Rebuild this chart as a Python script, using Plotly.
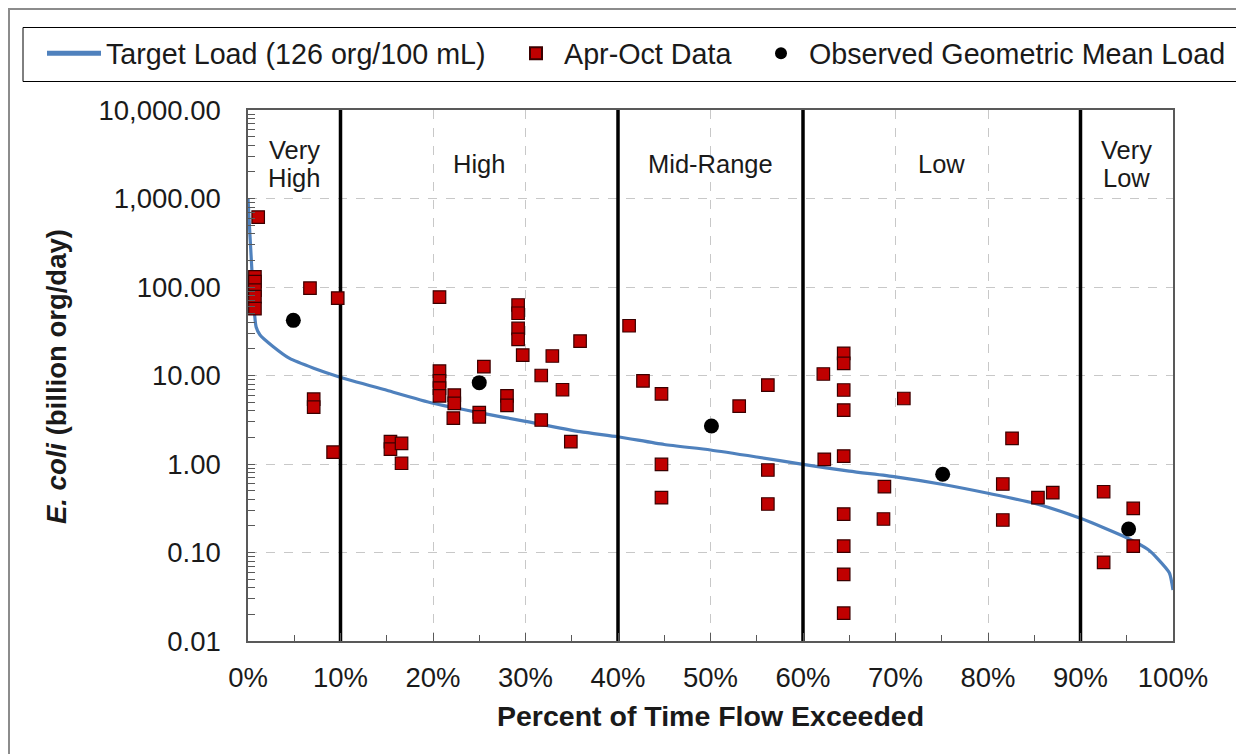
import plotly.graph_objects as go

# ---------------- data ----------------
# Target load duration curve (percent of time flow exceeded, billion org/day)
target_x = [0, 0.2, 0.4, 0.65, 0.87, 1.3, 2.7, 4.5, 7.1, 9.8, 15, 20, 25, 30, 35.9, 40, 45, 50, 55, 60,
            65, 70, 75, 80, 85, 90, 95.1, 97.3, 98.3, 99.6, 100]
target_y = [1000, 405, 170, 60, 35.6, 28.7, 21.3, 15.6, 12.1, 9.7, 6.8, 4.85, 3.8, 3.03, 2.32, 2.03, 1.66,
            1.44, 1.2, 0.99, 0.83, 0.715, 0.59, 0.467, 0.36, 0.243, 0.145, 0.108, 0.086, 0.059, 0.0377]

# Apr-Oct sample loads
data_x = [1.1, 0.75, 0.75, 0.75, 0.75, 0.75, 6.7, 9.7, 7.1, 7.1, 9.2,
          20.7, 20.7, 20.7, 20.7, 20.7, 25.5, 22.3, 22.3, 22.2, 25.0, 25.0, 28.0, 28.0,
          29.2, 29.2, 29.2, 29.2, 29.7, 32.9, 31.7, 31.7, 34.0, 35.9, 34.9, 15.4, 15.4, 16.6, 16.6,
          41.2, 42.7, 44.7, 44.7, 44.7, 53.1, 56.2, 56.2, 56.2,
          62.2, 62.3, 64.4, 64.4, 64.4, 64.4, 64.4, 64.4, 64.4, 64.4, 64.4,
          68.8, 68.7, 70.9, 81.6, 81.6, 82.6, 85.4, 87.0,
          92.5, 92.5, 95.7, 95.7]
data_y = [617, 130, 115, 92, 78, 57, 97, 75, 5.4, 4.4, 1.36,
          77, 11.2, 8.7, 7.2, 5.9, 12.6, 6.0, 4.85, 3.3, 3.8, 3.4, 5.9, 4.6,
          62.6, 50.5, 34, 25.6, 17, 16.6, 10.0, 3.14, 6.9, 24.5, 1.79, 1.79, 1.47, 1.71, 1.02,
          36.5, 8.7, 6.2, 0.99, 0.416, 4.5, 7.8, 0.855, 0.353,
          10.4, 1.13, 17.8, 13.7, 6.86, 4.07, 1.23, 0.272, 0.118, 0.0567, 0.0206,
          0.554, 0.239, 5.5, 0.594, 0.233, 1.95, 0.416, 0.474,
          0.486, 0.0775, 0.315, 0.118]

# Observed geometric mean load per flow zone
gm_x = [4.9, 25.0, 50.1, 75.1, 95.2]
gm_y = [42, 8.3, 2.69, 0.766, 0.184]

# Flow zones
zone_bounds = [0, 10, 40, 60, 90, 100]
zone_names = ["Very<br>High", "High", "Mid-Range", "Low", "Very<br>Low"]

y_tickvals = [0.01, 0.1, 1, 10, 100, 1000, 10000]
y_ticktext = ["0.01", "0.10", "1.00", "10.00", "100.00", "1,000.00", "10,000.00"]
x_tickvals = [0, 10, 20, 30, 40, 50, 60, 70, 80, 90, 100]
x_ticktext = ["0%", "10%", "20%", "30%", "40%", "50%", "60%", "70%", "80%", "90%", "100%"]

# ---------------- figure ----------------
FONT = "Liberation Sans, Arial, sans-serif"
TXT = "#1a1a1a"
W, H = 1244, 754
OFF = 8  # page body margin
ML, MR, MT, MB = 240, 79, 102, 121
PW, PH = W - ML - MR, H - MT - MB


def px_x(p):
    """screen x pixel -> paper x"""
    return (p - OFF - ML) / PW


def px_y(p):
    """screen y pixel -> paper y"""
    return (H - MB - (p - OFF)) / PH


# zone divider lines built from the zone boundaries (drawn as a trace, above the grid)
div_x, div_y = [], []
for b in zone_bounds[1:-1]:
    div_x += [b, b, None]
    div_y += [y_tickvals[0], y_tickvals[-1], None]

fig = go.Figure()
fig.add_trace(go.Scatter(x=target_x, y=target_y, mode="lines", name="Target Load (126 org/100 mL)",
                         legend="legend",
                         line=dict(color="#4F81BD", width=3.2, shape="spline", smoothing=0.6)))
fig.add_trace(go.Scatter(x=div_x, y=div_y, mode="lines", showlegend=False, hoverinfo="skip",
                         line=dict(color="#000000", width=3.5)))
fig.add_trace(go.Scatter(x=data_x, y=data_y, mode="markers", name="Apr-Oct Data", legend="legend2",
                         marker=dict(symbol="square", size=12.5, color="#C00000",
                                     line=dict(color="#3A0000", width=1.2))))
fig.add_trace(go.Scatter(x=gm_x, y=gm_y, mode="markers", name="Observed Geometric Mean Load",
                         legend="legend3",
                         marker=dict(symbol="circle", size=15, color="#000000")))

shapes = []
# outer chart border
shapes.append(dict(type="rect", xref="paper", yref="paper", x0=px_x(9), x1=px_x(1300),
                   y0=px_y(800), y1=px_y(9), line=dict(color="#8C8C8C", width=2)))
# legend frame
shapes.append(dict(type="rect", xref="paper", yref="paper", x0=px_x(23), x1=px_x(1241),
                   y0=px_y(81.5), y1=px_y(27.5), line=dict(color="#000000", width=1)))

annotations = []
for i, name in enumerate(zone_names):
    mid = (zone_bounds[i] + zone_bounds[i + 1]) / 2
    lines = name.split("<br>")
    n = len(lines)
    for j, ln in enumerate(lines):
        ypx = 164 + (j - (n - 1) / 2) * 28
        annotations.append(dict(x=mid, xref="x", y=px_y(ypx), yref="paper", text=ln, showarrow=False,
                                xanchor="center", yanchor="middle",
                                font=dict(family=FONT, size=25.5, color=TXT)))
annotations.append(dict(x=px_x(57), y=px_y(377), xref="paper", yref="paper", textangle=-90,
                        xanchor="center", yanchor="middle",
                        text="<b><i>E. coli</i> (billion org/day)</b>", showarrow=False,
                        font=dict(family=FONT, size=27.5, color=TXT)))
annotations.append(dict(x=px_x(710), y=px_y(716), xref="paper", yref="paper",
                        xanchor="center", yanchor="middle",
                        text="<b>Percent of Time Flow Exceeded</b>", showarrow=False,
                        font=dict(family=FONT, size=28.5, color=TXT)))

legend_common = dict(orientation="h", xanchor="left", yanchor="top", borderwidth=0,
                     bgcolor="rgba(0,0,0,0)", font=dict(family=FONT, size=28.7, color=TXT),
                     itemsizing="constant")

fig.update_layout(
    width=W, height=H,
    margin=dict(l=ML, r=MR, t=MT, b=MB, autoexpand=False),
    paper_bgcolor="white", plot_bgcolor="white",
    font=dict(family=FONT, size=27, color=TXT),
    showlegend=True,
    hovermode="closest",
    legend=dict(x=px_x(42), y=px_y(28), itemwidth=54, **legend_common),
    legend2=dict(x=px_x(508), y=px_y(28), itemwidth=46, **legend_common),
    legend3=dict(x=px_x(753), y=px_y(28), itemwidth=46, **legend_common),
    shapes=shapes,
    annotations=annotations,
    xaxis=dict(range=[0, 100], tickvals=x_tickvals, ticktext=x_ticktext, showline=True, mirror=True,
               linecolor="#595959", linewidth=1.5, ticks="inside", ticklen=8, tickcolor="#595959",
               showgrid=True, gridcolor="#C8C8C8", griddash="dash", gridwidth=1, zeroline=False,
               tickfont=dict(family=FONT, size=27.5, color=TXT), ticklabelstandoff=11,
               minor=dict(dtick=5, ticks="inside", ticklen=6, tickcolor="#595959", showgrid=False)),
    yaxis=dict(type="log", range=[-2, 4], tickvals=y_tickvals, ticktext=y_ticktext, showline=True,
               mirror=True, linecolor="#595959", linewidth=1.5, ticks="inside", ticklen=7,
               tickcolor="#595959", showgrid=True, gridcolor="#C8C8C8", griddash="dash", gridwidth=1,
               zeroline=False, tickfont=dict(family=FONT, size=27.5, color=TXT),
               ticklabelstandoff=20,
               minor=dict(dtick="D1", ticks="inside", ticklen=7, tickcolor="#595959", showgrid=False)),
)

fig.write_html("out.html")
